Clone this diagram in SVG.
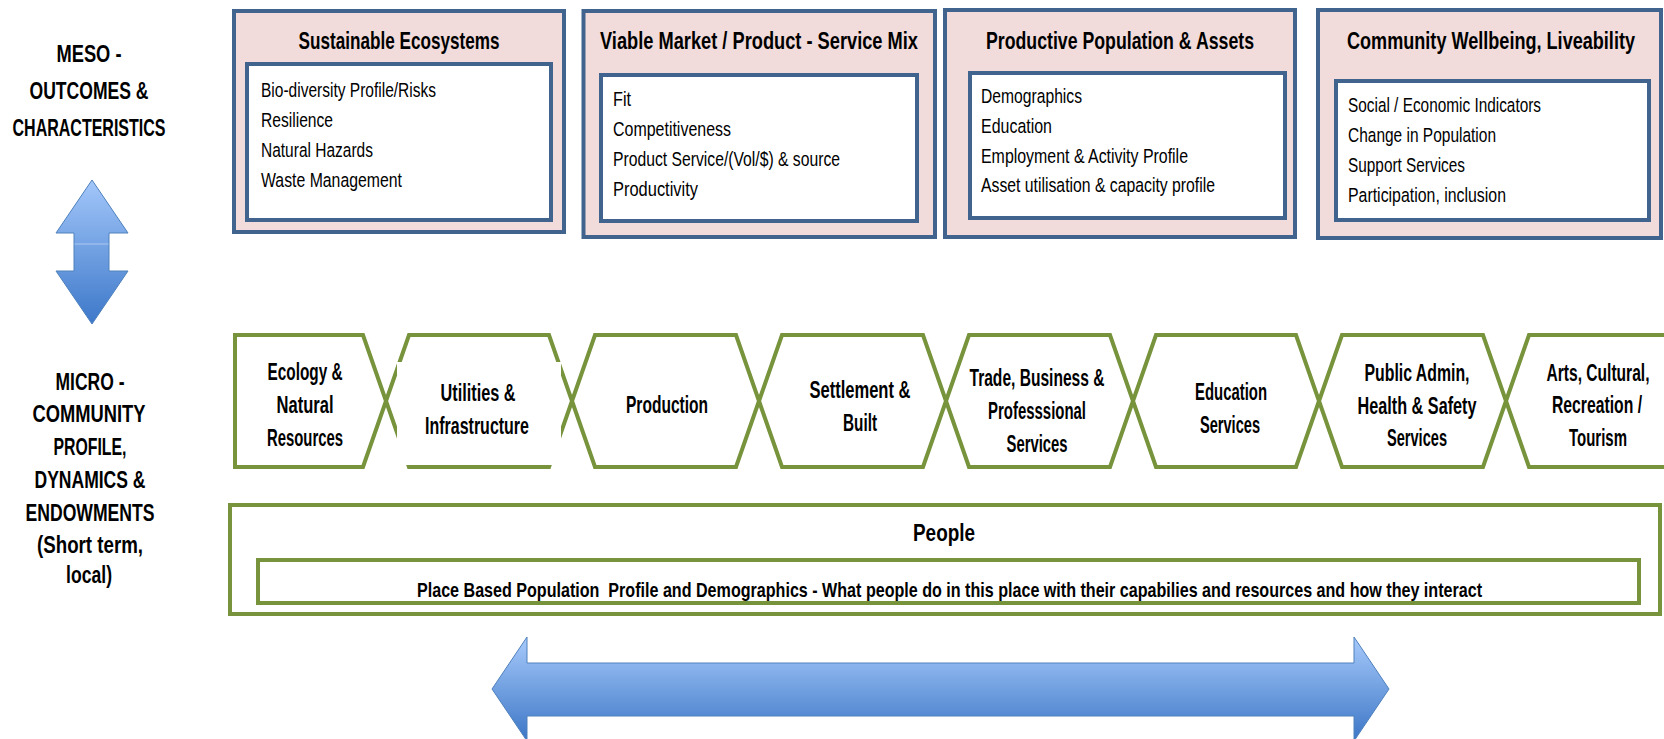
<svg xmlns="http://www.w3.org/2000/svg" width="1664" height="739" viewBox="0 0 1664 739">
<style>
  text { font-family: "Liberation Sans", Arial, sans-serif; fill: #000; }
  .lbl { font-size: 24px; font-weight: bold; text-anchor: middle; }
  .ttl { font-size: 24px; font-weight: bold; text-anchor: middle; }
  .itm { font-size: 20.5px; }
  .hx { font-size: 23px; font-weight: bold; text-anchor: middle; }
  .ppl { font-size: 21px; font-weight: bold; text-anchor: middle; }
  .outer { fill: #F2DCDB; stroke: #41648F; stroke-width: 4; }
  .inner { fill: #FFFFFF; stroke: #41648F; stroke-width: 4; }
  .hex { fill: #FFFFFF; stroke: #77933C; stroke-width: 4; stroke-linejoin: miter; }
  .gbox { fill: #FFFFFF; stroke: #77933C; stroke-width: 4; }
  .arrow { stroke: #4F81BD; stroke-width: 1; }
</style>
<defs>
  <linearGradient id="gv" x1="0" y1="0" x2="0" y2="1">
    <stop offset="0" stop-color="#A3C7FA"/>
    <stop offset="1" stop-color="#3D78C9"/>
  </linearGradient>
  <linearGradient id="gh" x1="0" y1="0" x2="0" y2="1">
    <stop offset="0" stop-color="#A7CAFB"/>
    <stop offset="1" stop-color="#3C76C6"/>
  </linearGradient>
</defs>
<rect width="1664" height="739" fill="#FFFFFF"/>

<g id="label-meso">
  <text class="lbl" x="89" y="62" textLength="65" lengthAdjust="spacingAndGlyphs">MESO -</text>
  <text class="lbl" x="89" y="99" textLength="119" lengthAdjust="spacingAndGlyphs">OUTCOMES &amp;</text>
  <text class="lbl" x="89" y="136" textLength="153" lengthAdjust="spacingAndGlyphs">CHARACTERISTICS</text>
</g>
<g id="label-micro">
  <text class="lbl" x="90" y="390" textLength="69" lengthAdjust="spacingAndGlyphs">MICRO -</text>
  <text class="lbl" x="89" y="422" textLength="113" lengthAdjust="spacingAndGlyphs">COMMUNITY</text>
  <text class="lbl" x="90" y="455" textLength="73" lengthAdjust="spacingAndGlyphs">PROFILE,</text>
  <text class="lbl" x="90" y="488" textLength="111" lengthAdjust="spacingAndGlyphs">DYNAMICS &amp;</text>
  <text class="lbl" x="90" y="521" textLength="129" lengthAdjust="spacingAndGlyphs">ENDOWMENTS</text>
  <text class="lbl" x="90" y="553" textLength="106" lengthAdjust="spacingAndGlyphs">(Short term,</text>
  <text class="lbl" x="89" y="583" textLength="46" lengthAdjust="spacingAndGlyphs">local)</text>
</g>

<g id="box-ecosystems">
  <rect class="outer" x="234" y="11" width="330" height="221"/>
  <rect class="inner" x="247" y="64" width="304" height="156"/>
  <text class="ttl" x="399" y="49" textLength="201" lengthAdjust="spacingAndGlyphs">Sustainable Ecosystems</text>
  <text class="itm" x="261" y="97" textLength="175" lengthAdjust="spacingAndGlyphs">Bio-diversity Profile/Risks</text>
  <text class="itm" x="261" y="127" textLength="72" lengthAdjust="spacingAndGlyphs">Resilience</text>
  <text class="itm" x="261" y="157" textLength="112" lengthAdjust="spacingAndGlyphs">Natural Hazards</text>
  <text class="itm" x="261" y="187" textLength="141" lengthAdjust="spacingAndGlyphs">Waste Management</text>
</g>

<g id="box-market">
  <rect class="outer" x="583.5" y="11" width="351.5" height="226"/>
  <rect class="inner" x="601" y="75" width="316" height="146"/>
  <text class="ttl" x="759" y="49" textLength="318" lengthAdjust="spacingAndGlyphs">Viable Market / Product - Service Mix</text>
  <text class="itm" x="613" y="106" textLength="18" lengthAdjust="spacingAndGlyphs">Fit</text>
  <text class="itm" x="613" y="136" textLength="118" lengthAdjust="spacingAndGlyphs">Competitiveness</text>
  <text class="itm" x="613" y="166" textLength="227" lengthAdjust="spacingAndGlyphs">Product Service/(Vol/$) &amp; source</text>
  <text class="itm" x="613" y="196" textLength="85" lengthAdjust="spacingAndGlyphs">Productivity</text>
</g>

<g id="box-population">
  <rect class="outer" x="945" y="10" width="350" height="227"/>
  <rect class="inner" x="970" y="73" width="315" height="145"/>
  <text class="ttl" x="1120" y="49" textLength="268" lengthAdjust="spacingAndGlyphs">Productive Population &amp; Assets</text>
  <text class="itm" x="981" y="103" textLength="101" lengthAdjust="spacingAndGlyphs">Demographics</text>
  <text class="itm" x="981" y="133" textLength="71" lengthAdjust="spacingAndGlyphs">Education</text>
  <text class="itm" x="981" y="163" textLength="207" lengthAdjust="spacingAndGlyphs">Employment &amp; Activity Profile</text>
  <text class="itm" x="981" y="192" textLength="234" lengthAdjust="spacingAndGlyphs">Asset utilisation &amp; capacity profile</text>
</g>

<g id="box-wellbeing">
  <rect class="outer" x="1318" y="10" width="343" height="228"/>
  <rect class="inner" x="1336" y="81" width="313" height="139"/>
  <text class="ttl" x="1491" y="49" textLength="288" lengthAdjust="spacingAndGlyphs">Community Wellbeing, Liveability</text>
  <text class="itm" x="1348" y="112" textLength="193" lengthAdjust="spacingAndGlyphs">Social / Economic Indicators</text>
  <text class="itm" x="1348" y="142" textLength="148" lengthAdjust="spacingAndGlyphs">Change in Population</text>
  <text class="itm" x="1348" y="172" textLength="117" lengthAdjust="spacingAndGlyphs">Support Services</text>
  <text class="itm" x="1348" y="202" textLength="158" lengthAdjust="spacingAndGlyphs">Participation, inclusion</text>
</g>

<g id="hex-ecology">
  <path class="hex" d="M235,335 H363 L386,401 L363,467 H235 Z"/>
  <text class="hx" x="305" y="380" textLength="75" lengthAdjust="spacingAndGlyphs">Ecology &amp;</text>
  <text class="hx" x="305" y="413" textLength="57" lengthAdjust="spacingAndGlyphs">Natural</text>
  <text class="hx" x="305" y="446" textLength="76" lengthAdjust="spacingAndGlyphs">Resources</text>
</g>
<g id="hex-utilities">
  <path class="hex" d="M386,401 L409,335 H549 L572,401 L549,467 H409 Z"/>
  <rect x="397" y="362" width="164" height="103" fill="#FFFFFF"/>
  <text class="hx" x="478" y="401" textLength="75" lengthAdjust="spacingAndGlyphs">Utilities &amp;</text>
  <text class="hx" x="477" y="434" textLength="104" lengthAdjust="spacingAndGlyphs">Infrastructure</text>
</g>
<g id="hex-production">
  <path class="hex" d="M572,401 L595,335 H736 L759,401 L736,467 H595 Z"/>
  <text class="hx" x="667" y="413" textLength="82" lengthAdjust="spacingAndGlyphs">Production</text>
</g>
<g id="hex-settlement">
  <path class="hex" d="M759,401 L782,335 H923 L946,401 L923,467 H782 Z"/>
  <text class="hx" x="860" y="398" textLength="101" lengthAdjust="spacingAndGlyphs">Settlement &amp;</text>
  <text class="hx" x="860" y="431" textLength="34" lengthAdjust="spacingAndGlyphs">Built</text>
</g>
<g id="hex-trade">
  <path class="hex" d="M946,401 L969,335 H1110 L1133,401 L1110,467 H969 Z"/>
  <text class="hx" x="1037" y="386" textLength="135" lengthAdjust="spacingAndGlyphs">Trade, Business &amp;</text>
  <text class="hx" x="1037" y="419" textLength="98" lengthAdjust="spacingAndGlyphs">Professsional</text>
  <text class="hx" x="1037" y="452" textLength="61" lengthAdjust="spacingAndGlyphs">Services</text>
</g>
<g id="hex-education">
  <path class="hex" d="M1133,401 L1156,335 H1296 L1319,401 L1296,467 H1156 Z"/>
  <text class="hx" x="1231" y="400" textLength="72" lengthAdjust="spacingAndGlyphs">Education</text>
  <text class="hx" x="1230" y="433" textLength="60" lengthAdjust="spacingAndGlyphs">Services</text>
</g>
<g id="hex-public">
  <path class="hex" d="M1319,401 L1342,335 H1483 L1506,401 L1483,467 H1342 Z"/>
  <text class="hx" x="1417" y="381" textLength="105" lengthAdjust="spacingAndGlyphs">Public Admin,</text>
  <text class="hx" x="1417" y="414" textLength="119" lengthAdjust="spacingAndGlyphs">Health &amp; Safety</text>
  <text class="hx" x="1417" y="446" textLength="60" lengthAdjust="spacingAndGlyphs">Services</text>
</g>
<g id="hex-arts">
  <path class="hex" d="M1506,401 L1529,335 H1680 L1703,401 L1680,467 H1529 Z"/>
  <text class="hx" x="1598" y="381" textLength="103" lengthAdjust="spacingAndGlyphs">Arts, Cultural,</text>
  <text class="hx" x="1597" y="413" textLength="90" lengthAdjust="spacingAndGlyphs">Recreation /</text>
  <text class="hx" x="1598" y="446" textLength="58" lengthAdjust="spacingAndGlyphs">Tourism</text>
</g>

<g id="box-people">
  <rect class="gbox" x="230" y="505" width="1430" height="109"/>
  <rect class="gbox" x="258" y="560" width="1381" height="43"/>
  <text class="ppl" x="944" y="541" textLength="62" lengthAdjust="spacingAndGlyphs" style="font-size:24px">People</text>
  <text class="ppl" x="949.5" y="597" textLength="1065" lengthAdjust="spacingAndGlyphs" xml:space="preserve">Place Based Population  Profile and Demographics - What people do in this place with their capabilies and resources and how they interact</text>
</g>

<g id="connectors">
  <path class="arrow" fill="url(#gv)" d="M92,180 L128,233 H109 V271 H128 L92,324 L56,271 H74 V233 H56 Z"/>
  <line x1="74.5" y1="244" x2="108.5" y2="244" stroke="#C2D8F6" stroke-width="1" opacity="0.7"/>
  <path class="arrow" fill="url(#gh)" d="M492,689 L527,637 V663 H1354 V637 L1389,689 L1354,741 V716 H527 V741 Z"/>
</g>
</svg>
